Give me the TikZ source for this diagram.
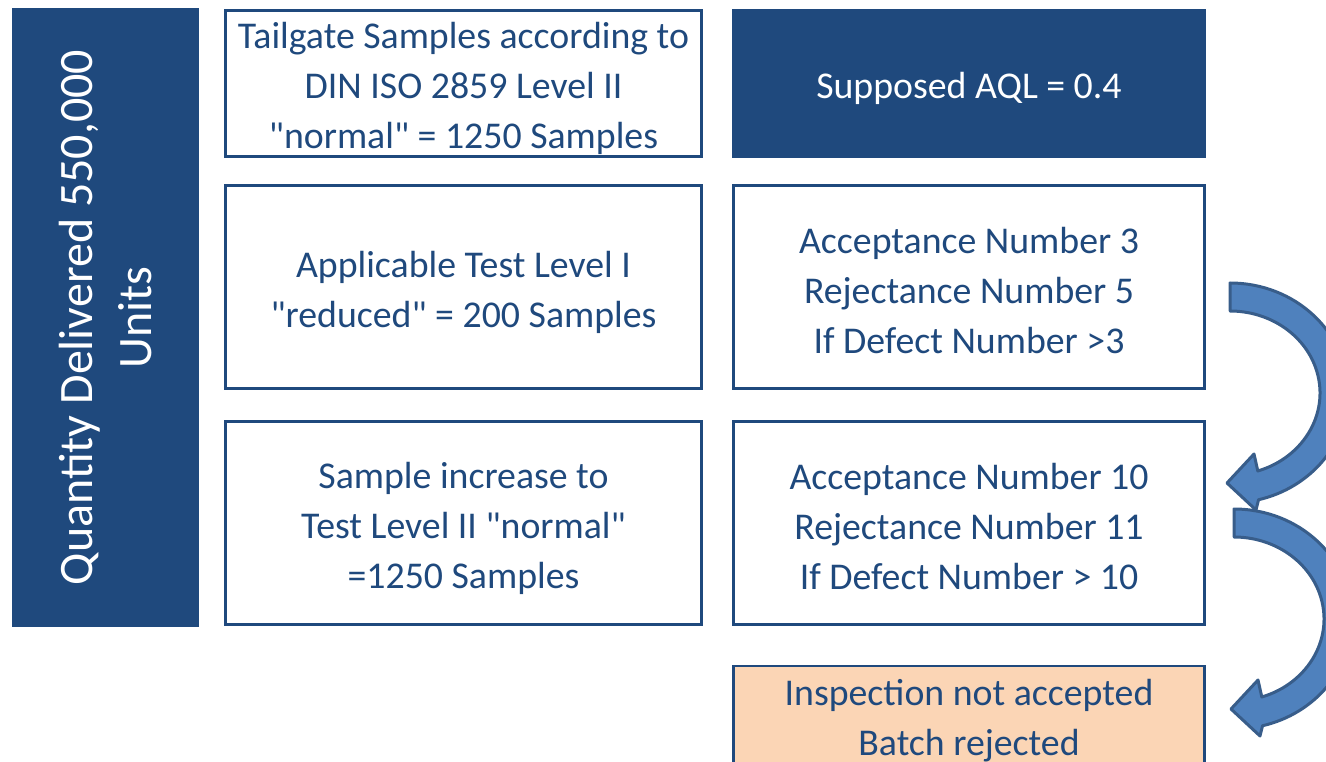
\documentclass[tikz,border=0pt]{standalone}
\usepackage{fontspec}
\setmainfont{Carlito}[Ligatures=TeXOff]
\usetikzlibrary{calc}
\definecolor{navy}{RGB}{31,73,125}
\definecolor{peach}{RGB}{251,213,181}
\definecolor{arrowfill}{RGB}{79,129,189}
\definecolor{arrowline}{RGB}{56,93,138}
\tikzset{
  box/.style={draw=navy, line width=2.6pt, fill=white, inner sep=0pt},
  darkbox/.style={box, fill=navy},
  notebox/.style={box, fill=peach},
  colA/.style={minimum width=476pt},
  colB/.style={minimum width=471.4pt},
  shorttall/.style={minimum height=146.4pt},
  tall/.style={minimum height=203.4pt},
  boxtext/.style={text=navy, align=center, inner sep=0pt,
    font=\fontsize{37.8}{50}\selectfont},
  lighttext/.style={boxtext, text=white},
  bendarrow/.style={fill=arrowfill, draw=arrowline, line width=3pt, line join=round},
}
% curved "go to next step" arrow; #1 = shift, #2 = name of its centre
\newcommand{\stepcurve}[2]{%
  \begin{scope}[shift={#1}]
    \coordinate (#2) at (1230,-393);
    \filldraw[bendarrow] (1230,-283)
      arc[start angle=90, end angle=-76, x radius=118, y radius=110]
      -- (1256,-510) -- (1227,-483) -- (1254,-454)
      -- ($(#2)+(-72:90 and 82)$)
      arc[start angle=-72, end angle=90, x radius=90, y radius=82]
      -- cycle;
  \end{scope}}
\begin{document}
\begin{tikzpicture}[x=1pt, y=1pt]
  \useasboundingbox (0,0) rectangle (1326,-762);
  \clip (0,0) rectangle (1326,-762);

  % quantity column
  \node[darkbox, draw=none, minimum width=187pt, minimum height=619pt] (qty) at (105.5,-317.5) {};
  \node[rotate=90, text=white, align=center, font=\fontsize{48}{59}\selectfont] (qtytext)
    at (qty.center) {Quantity Delivered 550,000\\Units};

  % sampling column
  \node[box, colA, shorttall] (tail) at (463.5,-83.5) {};
  \node[boxtext] (tailtext) at ([yshift=-5pt]tail.center)
    {Tailgate Samples according to\\DIN ISO 2859 Level II\\"normal" = 1250 Samples};
  \node[box, colA, tall] (reduced) at (463.5,-287) {};
  \node[boxtext] (reducedtext) at ([yshift=-5pt]reduced.center)
    {Applicable Test Level I\\"reduced" = 200 Samples};
  \node[box, colA, tall] (increase) at (463.5,-523) {};
  \node[boxtext] (increasetext) at ([yshift=-5pt]increase.center)
    {Sample increase to\\Test Level II "normal"\\=1250 Samples};

  % decision column
  \node[darkbox, colB, shorttall] (aql) at (969,-83.5) {};
  \node[lighttext] (aqltext) at ([yshift=-5pt]aql.center) {Supposed AQL = 0.4};
  \node[box, colB, tall] (acc3) at (969,-287) {};
  \node[boxtext] (acc3text) at ([yshift=-4pt]acc3.center)
    {Acceptance Number 3\\Rejectance Number 5\\If Defect Number >3};
  \node[box, colB, tall] (acc10) at (969,-523) {};
  \node[boxtext] (acc10text) at ([yshift=-4pt]acc10.center)
    {Acceptance Number 10\\Rejectance Number 11\\If Defect Number > 10};
  \node[notebox, colB, minimum height=106pt] (reject) at (969,-719) {};
  \node[boxtext] (rejecttext) at ([yshift=-2pt]reject.center)
    {Inspection not accepted\\Batch rejected};

  % escalation arrows
  \stepcurve{(0,0)}{bendA}
  \stepcurve{(4,-226)}{bendB}
\end{tikzpicture}
\end{document}
